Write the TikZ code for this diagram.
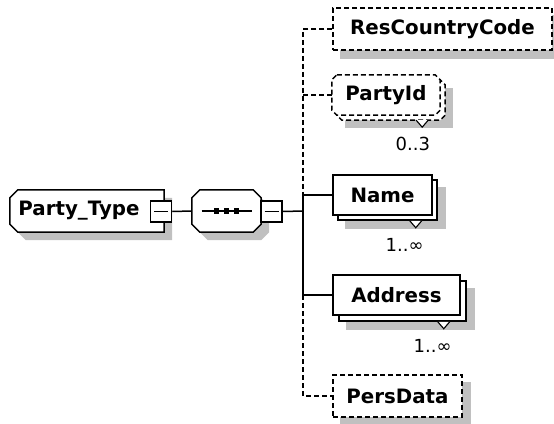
\documentclass[tikz,border=0pt]{standalone}
\usepackage{fontspec}
\setmainfont{DejaVu Sans}
\usetikzlibrary{calc}
\pgfdeclarelayer{bg}
\pgfdeclarelayer{mid}
\pgfsetlayers{bg,mid,main}
\definecolor{shadowc}{RGB}{192,192,192}
% octagon outline around a node: #1 node, #2 chamfer, #3 dx, #4 dy, #5 options
\newcommand\xsoct[5]{\path[#5] ([xshift=#3+#2,yshift=#4]#1.north west) -- ([xshift=#3-#2,yshift=#4]#1.north east) -- ([xshift=#3,yshift=#4-#2]#1.north east) -- ([xshift=#3,yshift=#4+#2]#1.south east) -- ([xshift=#3-#2,yshift=#4]#1.south east) -- ([xshift=#3+#2,yshift=#4]#1.south west) -- ([xshift=#3,yshift=#4+#2]#1.south west) -- ([xshift=#3,yshift=#4-#2]#1.north west) -- cycle;}
% left-chamfered outline
\newcommand\xslch[5]{\path[#5] ([xshift=#3+#2,yshift=#4]#1.north west) -- ([xshift=#3,yshift=#4]#1.north east) -- ([xshift=#3,yshift=#4]#1.south east) -- ([xshift=#3+#2,yshift=#4]#1.south west) -- ([xshift=#3,yshift=#4+#2]#1.south west) -- ([xshift=#3,yshift=#4-#2]#1.north west) -- cycle;}
\newcommand\xsshad[1]{\fill[shadowc] ([xshift=8pt,yshift=-8pt]#1.north west) rectangle ([xshift=8pt,yshift=-8pt]#1.south east);}
\begin{document}
\begin{tikzpicture}[x=1pt,y=-1pt,
  ln/.style={line width=1.5pt},
  opt/.style={dash pattern=on 5pt off 3pt},
  lbl/.style={font=\fontsize{19.8}{21}\selectfont\bfseries},
  card/.style={font=\fontsize{18}{20}\selectfont, inner sep=0pt},
  elem/.style={rectangle, draw, ln, fill=white, inner sep=0pt, lbl},
  frm/.style={rectangle, inner sep=0pt, lbl},
  sq/.style={rectangle, draw, ln, fill=white, inner sep=0pt, minimum width=21pt, minimum height=21pt},
  vmark/.style={line width=1.1pt}]
\useasboundingbox (0,0) rectangle (554,423);

% root type
\node[frm, minimum width=154pt, minimum height=42pt] (pt) at (87,211) {};
\node[lbl, inner sep=0pt] (ptl) at (79,211) {Party\_Type};
\node[sq] (ptsq) at (161,211.5) {};
\draw[ln] ([xshift=-7pt]ptsq.center) -- ([xshift=7pt]ptsq.center);

% sequence
\node[frm, minimum width=69pt, minimum height=42pt] (seq) at (226.5,211) {};
\node[sq] (seqsq) at (271.5,211.5) {};
\draw[ln] ([xshift=-7pt]seqsq.center) -- ([xshift=7pt]seqsq.center);
\draw[ln] ([xshift=-25pt]seq.center) -- ([xshift=25pt]seq.center);
\foreach \d in {-10,0,10}
  \fill ([xshift=\d pt-2.8pt,yshift=-2.8pt]seq.center) rectangle ([xshift=\d pt+2.8pt,yshift=2.8pt]seq.center);

% children
\node[elem, opt, minimum width=219pt, minimum height=42pt] (rcc) at (442.5,29) {ResCountryCode};

\node[frm, minimum width=108pt, minimum height=40pt] (pidb) at (391,100) {};
\node[frm, minimum width=108pt, minimum height=40pt] (pid) at (386,95) {PartyId};

\node[elem, minimum width=99pt, minimum height=40pt] (nameb) at (387.5,200) {};
\node[elem, minimum width=99pt, minimum height=40pt] (name) at (382.5,195) {Name};

\node[elem, minimum width=127pt, minimum height=40pt] (addrb) at (402.5,301) {};
\node[elem, minimum width=127pt, minimum height=40pt] (addr) at (396.5,295) {Address};

\node[elem, opt, minimum width=129pt, minimum height=42pt] (pers) at (397.5,396) {PersData};

% chamfered outlines
\begin{pgfonlayer}{mid}
\xslch{pt}{8pt}{0pt}{0pt}{draw, ln, fill=white}
\xsoct{seq}{8pt}{0pt}{0pt}{draw, ln, fill=white}
\xsoct{pidb}{5pt}{0pt}{0pt}{draw, ln, opt, fill=white}
\xsoct{pid}{5pt}{0pt}{0pt}{draw, ln, opt, fill=white}
\end{pgfonlayer}

% shadows
\begin{pgfonlayer}{bg}
\fill[white] (0,0) rectangle (554,423);
\xslch{pt}{8pt}{8pt}{-8pt}{fill=shadowc}
\xsoct{seq}{8pt}{8pt}{-8pt}{fill=shadowc}
\xsshad{rcc}
\xsshad{pidb}
\xsshad{nameb}
\xsshad{addrb}
\xsshad{pers}
\end{pgfonlayer}

% multiplicity marks
\coordinate (pidv) at ([xshift=-23pt]pidb.south east);
\coordinate (namev) at ([xshift=-22pt]nameb.south east);
\coordinate (addrv) at ([xshift=-23pt]addrb.south east);
\foreach \v in {pidv,namev,addrv}{
  \fill[white] ([xshift=-6pt]\v) -- ([yshift=-7pt]\v) -- ([xshift=6pt]\v) -- cycle;
  \draw[vmark] ([xshift=-6pt]\v) -- ([yshift=-7pt]\v) -- ([xshift=6pt]\v);
}
\node[card, anchor=north east] (pidc) at ([xshift=8pt,yshift=-17pt]pidv) {0..3};
\node[card, anchor=north east] (namec) at ([xshift=8pt,yshift=-17pt]namev) {1..∞};
\node[card, anchor=north east] (addrc) at ([xshift=8pt,yshift=-17pt]addrv) {1..∞};

% connectors
\coordinate (bus) at (303,211);
\draw[ln] (ptsq.east) -- (seq.west);
\draw[ln] (seqsq.east) -- (bus);
\draw[ln, opt] (rcc.west) -- (rcc.west -| bus) -- (name.west -| bus);
\draw[ln, opt] (pid.west -| bus) -- (pid.west);
\draw[ln] (name.west -| bus) -- (addr.west -| bus);
\draw[ln] (name.west -| bus) -- (name.west);
\draw[ln] (addr.west -| bus) -- (addr.west);
\draw[ln, opt] (addr.west -| bus) -- (pers.west -| bus) -- (pers.west);
\end{tikzpicture}
\end{document}
